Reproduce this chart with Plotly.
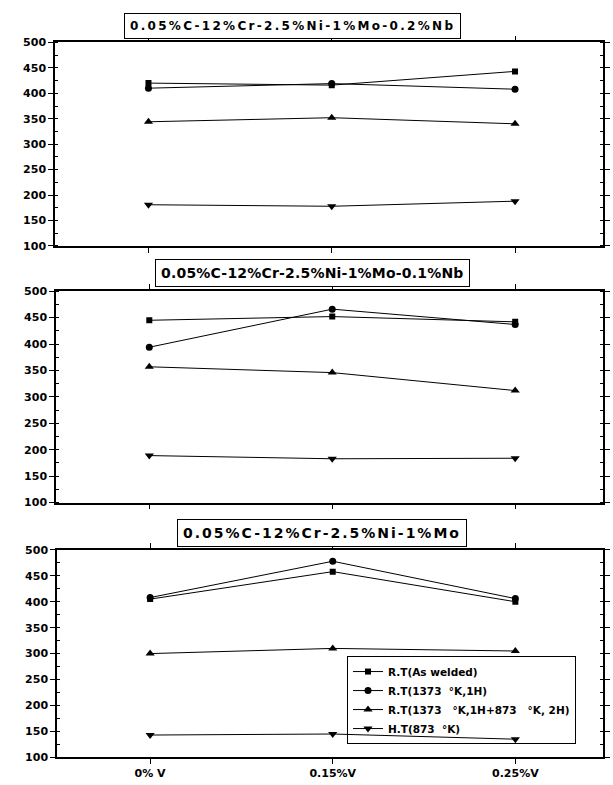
import plotly.graph_objects as go

# ---------------- data ----------------
categories = ["0% V", "0.15%V", "0.25%V"]
series_names = [
    "R.T(As welded)",
    "R.T(1373\u00a0\u00a0°K,1H)",
    "R.T(1373\u00a0\u00a0\u00a0°K,1H+873\u00a0\u00a0\u00a0°K,\u00a02H)",
    "H.T(873\u00a0\u00a0°K)",
]
panel_titles = [
    "0.05%C-12%Cr-2.5%Ni-1%Mo-0.2%Nb",
    "0.05%C-12%Cr-2.5%Ni-1%Mo-0.1%Nb",
    "0.05%C-12%Cr-2.5%Ni-1%Mo",
]

# panel 1 : 0.2% Nb
nb02_as_welded = [420, 416, 443]
nb02_1373 = [410, 419, 408]
nb02_1373_873 = [344, 352, 340]
nb02_ht873 = [181, 178, 188]

# panel 2 : 0.1% Nb
nb01_as_welded = [445, 452, 442]
nb01_1373 = [394, 466, 437]
nb01_1373_873 = [357, 346, 312]
nb01_ht873 = [189, 183, 184]

# panel 3 : base alloy
base_as_welded = [405, 458, 400]
base_1373 = [408, 478, 406]
base_1373_873 = [300, 310, 305]
base_ht873 = [143, 145, 135]

y_ticks = [100, 150, 200, 250, 300, 350, 400, 450, 500]

# ---------------- styling ----------------
W, H = 613, 785
symbols = ["square", "circle", "triangle-up", "triangle-down"]
msizes = [6, 7, 8, 8]
FONT = "DejaVu Sans"

panels = [
    [nb02_as_welded, nb02_1373, nb02_1373_873, nb02_ht873],
    [nb01_as_welded, nb01_1373, nb01_1373_873, nb01_ht873],
    [base_as_welded, base_1373, base_1373_873, base_ht873],
]
# pixel geometry of plot areas: (left, right, top, bottom)
boxes = [(55, 603, 37, 244), (56, 603, 290, 505), (57, 603, 553, 764)]

fig = go.Figure()
for p, series in enumerate(panels):
    xa = "x" if p == 0 else f"x{p+1}"
    ya = "y" if p == 0 else f"y{p+1}"
    for s, vals in enumerate(series):
        fig.add_trace(go.Scatter(
            x=categories, y=vals, name=series_names[s],
            mode="lines+markers",
            line=dict(color="black", width=1),
            marker=dict(symbol=symbols[s], size=msizes[s], color="black"),
            xaxis=xa, yaxis=ya,
            showlegend=(p == 2),
        ))

layout = dict(
    width=W, height=H,
    margin=dict(l=0, r=0, t=0, b=0),
    paper_bgcolor="white", plot_bgcolor="white",
    font=dict(family=FONT, size=11, color="black", weight="bold"),
    legend=dict(
        x=347 / W, y=1 - 661 / H, xanchor="left", yanchor="top",
        bgcolor="rgba(255,255,255,0)", bordercolor="black", borderwidth=1,
        font=dict(family=FONT, size=10.5, color="black", weight="bold"),
        tracegroupgap=0, itemwidth=30,
    ),
)

for p, (l, r, t, b) in enumerate(boxes):
    xk = "xaxis" if p == 0 else f"xaxis{p+1}"
    yk = "yaxis" if p == 0 else f"yaxis{p+1}"
    ya = "y" if p == 0 else f"y{p+1}"
    xa = "x" if p == 0 else f"x{p+1}"
    layout[xk] = dict(
        domain=[l / W, r / W], anchor=ya, type="category",
        categoryorder="array", categoryarray=categories,
        range=[-0.51, 2.48],
        showline=True, linecolor="black", linewidth=1.5, mirror="ticks",
        ticks="outside", ticklen=5, tickwidth=1.2, tickcolor="black",
        showgrid=False, zeroline=False,
        showticklabels=(p == 2),
        tickfont=dict(family=FONT, size=11, weight="bold"),
    )
    layout[yk] = dict(
        domain=[1 - b / H, 1 - t / H], anchor=xa,
        range=[100, 500], tickvals=y_ticks,
        showline=True, linecolor="black", linewidth=1.5, mirror="ticks",
        ticks="outside", ticklen=5, tickwidth=1.2, tickcolor="black",
        minor=dict(ticks="inside", dtick=25, ticklen=3, tickwidth=1, tickcolor="black"),
        showgrid=False, zeroline=False,
        tickfont=dict(family=FONT, size=11, weight="bold"),
    )

fig.update_layout(**layout)

# panel title boxes: (center x px, center y px, font size, letter spacing)
title_specs = [
    (292, 20, 12, 2.3),
    (312, 271, 14, 0.2),
    (322, 536, 14, 2.0),
]
for (cx, cy, fs, ls), txt in zip(title_specs, panel_titles):
    fig.add_annotation(
        xref="paper", yref="paper", x=cx / W, y=1 - cy / H,
        text=f'<span style="letter-spacing:{ls}px">{txt}</span>',
        showarrow=False, xanchor="center", yanchor="middle",
        font=dict(family=FONT, size=fs, color="black", weight="bold"),
        bordercolor="black", borderwidth=1, borderpad=5, bgcolor="white",
    )

fig.write_html(
    "out.html",
    config={"displayModeBar": False},
    post_script="document.body.style.margin='0';",
)
